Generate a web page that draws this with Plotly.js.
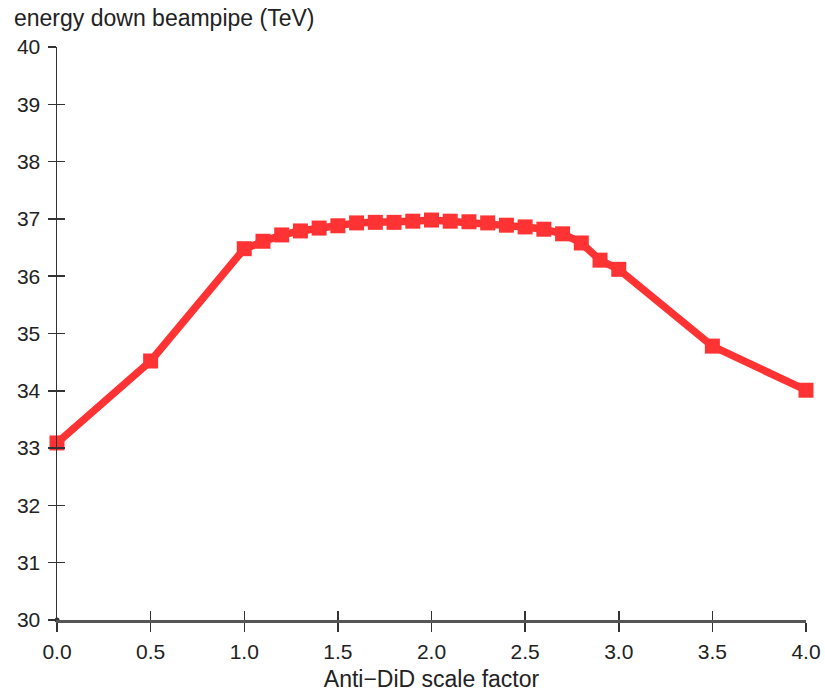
<!DOCTYPE html>
<html>
<head>
<meta charset="utf-8">
<script src="https://cdn.plot.ly/plotly-3.0.1.min.js"></script>
<style>html,body{margin:0;padding:0;background:#fff;}#chart{width:825px;height:692px;}</style>
</head>
<body>
<div id="chart"></div>
<script>
const scaleFactor = [0.0, 0.5, 1.0, 1.1, 1.2, 1.3, 1.4, 1.5, 1.6, 1.7, 1.8, 1.9, 2.0, 2.1, 2.2, 2.3, 2.4, 2.5, 2.6, 2.7, 2.8, 2.9, 3.0, 3.5, 4.0];
const energyTeV = [33.09, 34.52, 36.48, 36.61, 36.72, 36.79, 36.84, 36.88, 36.93, 36.94, 36.94, 36.96, 36.98, 36.96, 36.95, 36.93, 36.89, 36.86, 36.82, 36.74, 36.58, 36.28, 36.12, 34.78, 34.01];
const xTicks = [0, 0.5, 1, 1.5, 2, 2.5, 3, 3.5, 4];
const xTickText = ["0.0", "0.5", "1.0", "1.5", "2.0", "2.5", "3.0", "3.5", "4.0"];
const yTicks = [30, 31, 32, 33, 34, 35, 36, 37, 38, 39, 40];

const fontFam = "Liberation Sans, Arial, sans-serif";
const axColor = "#333333";
const txtColor = "#222222";

const trace = {
  x: scaleFactor, y: energyTeV, type: "scatter", mode: "lines+markers",
  line: {color: "#ff3333", width: 7.5},
  marker: {symbol: "square", size: 15, color: "#ff3333"},
  cliponaxis: false, showlegend: false, hoverinfo: "x+y"
};
// small dot at the origin on overlay axes (also activates crossing ticks)
const ghost = {x: [0], y: [30], xaxis: "x2", yaxis: "y2", mode: "markers",
  marker: {size: 5, color: "#333"}, showlegend: false, hoverinfo: "skip", cliponaxis: false};

const layout = {
  width: 825, height: 692,
  margin: {l: 57, r: 19, t: 47, b: 72},
  paper_bgcolor: "#fff", plot_bgcolor: "#fff",
  font: {family: fontFam, size: 21, color: txtColor},
  title: {text: "energy down beampipe (TeV)", font: {family: fontFam, size: 23, color: txtColor},
    x: 14/825, xanchor: "left", xref: "container", y: 1 - 18/692, yanchor: "middle", yref: "container"},
  xaxis: {range: [0, 4], tickvals: xTicks, ticktext: xTickText, ticks: "outside", ticklen: 9, tickwidth: 1.5,
    tickcolor: axColor, showline: true, linecolor: "#555", linewidth: 3, showgrid: false, zeroline: false,
    tickfont: {size: 21, color: txtColor}, ticklabelstandoff: 2,
    title: {text: "Anti\u2212DiD scale factor", font: {size: 23, color: txtColor}, standoff: 9}},
  yaxis: {range: [30, 40], tickvals: yTicks, ticks: "outside", ticklen: 8, tickwidth: 1.5,
    tickcolor: axColor, showline: true, linecolor: axColor, linewidth: 1.5, showgrid: false, zeroline: false,
    tickfont: {size: 21, color: txtColor}, ticklabelstandoff: 3},
  xaxis2: {range: [0, 4], overlaying: "x", tickvals: xTicks, ticks: "inside", ticklen: 9, tickwidth: 1.5,
    tickcolor: axColor, showticklabels: false, showline: false, showgrid: false, zeroline: false, side: "bottom"},
  yaxis2: {range: [30, 40], overlaying: "y", tickvals: yTicks, ticks: "inside", ticklen: 8, tickwidth: 1.5,
    tickcolor: axColor, showticklabels: false, showline: false, showgrid: false, zeroline: false, side: "left"}
};

Plotly.newPlot("chart", [ghost, trace], layout, {displayModeBar: false, staticPlot: true});
</script>
</body>
</html>
